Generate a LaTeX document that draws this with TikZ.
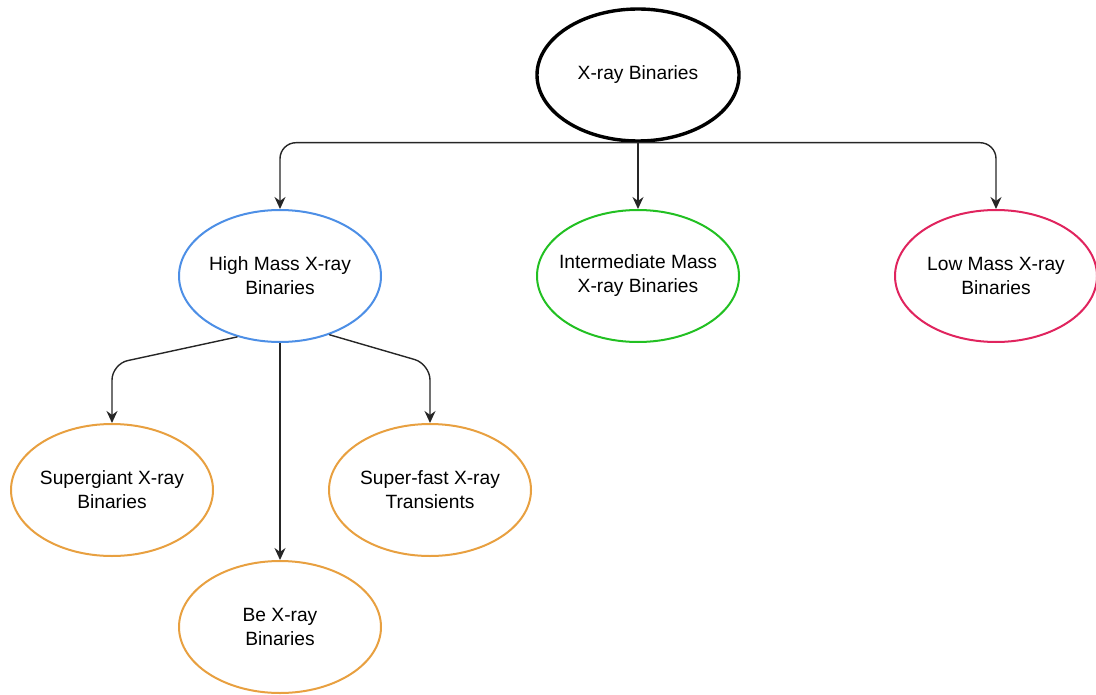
\documentclass[tikz,border=0pt]{standalone}
\usepackage{fontspec}
\setmainfont{Liberation Sans}
\usetikzlibrary{positioning, arrows.meta, shapes.geometric}

\definecolor{hmblue}{HTML}{4D8FE6}
\definecolor{imgreen}{HTML}{22C022}
\definecolor{lmred}{HTML}{E0245E}
\definecolor{suborange}{HTML}{E8A040}

\begin{document}
\begin{tikzpicture}[
  x=0.5pt, y=-0.5pt,
  font=\fontsize{9.6}{12}\selectfont,
  cls/.style={ellipse, draw, line width=1pt, fill=white, align=center,
    minimum width=101pt, minimum height=66pt, inner xsep=-8pt, inner ysep=0pt},
  root/.style={cls, line width=1.7pt},
  link/.style={-{Stealth[length=6pt, width=5.5pt]}, line width=0.7pt, draw=black!85, rounded corners=8pt}
]

\useasboundingbox (0,0) rectangle (1096,695);

% --- the root class ---
\node[root] (xrb) at (638,75) {X-ray Binaries};

% --- the three mass classes ---
\node[cls, draw=hmblue]  (hmxb) at (280,276) {High Mass X-ray\\Binaries};
\node[cls, draw=imgreen] (imxb) at (638,276) {Intermediate Mass\\X-ray Binaries};
\node[cls, draw=lmred]   (lmxb) at (996,276) {Low Mass X-ray\\Binaries};

% --- sub-classes of the high mass systems ---
\node[cls, draw=suborange] (sgxb) at (112,490) {Supergiant X-ray\\Binaries};
\node[cls, draw=suborange] (sfxt) at (430,490) {Super-fast X-ray\\Transients};
\node[cls, draw=suborange] (bexb) at (280,627) {Be X-ray\\Binaries};

% bends of the two slanted branches
\coordinate (sgbend) at (112,364);
\coordinate (sfbend) at (430,364);

% root to the mass classes
\draw[link] (xrb.south) -| (hmxb.north);
\draw[link] (xrb.south) -- (imxb.north);
\draw[link] (xrb.south) -| (lmxb.north);

% high mass to its sub-classes
\draw[link] (hmxb.235) -- (sgbend) -- (sgxb.north);
\draw[link] (hmxb.south) -- (bexb.north);
\draw[link] (hmxb.310) -- (sfbend) -- (sfxt.north);

\end{tikzpicture}
\end{document}
